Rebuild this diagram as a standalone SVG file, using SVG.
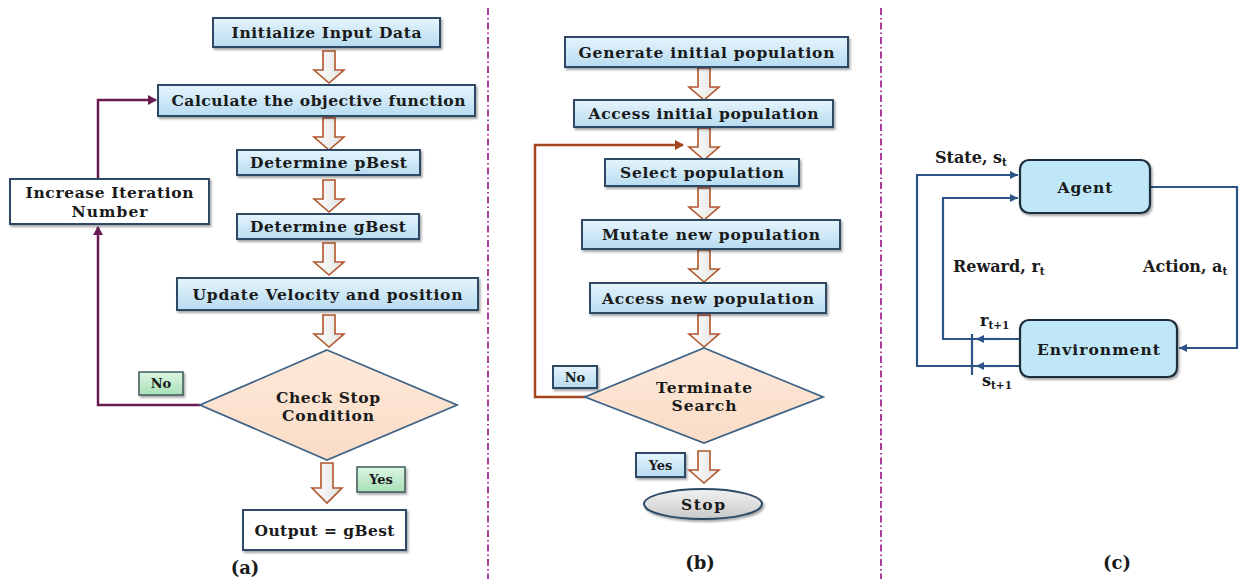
<svg xmlns="http://www.w3.org/2000/svg" xmlns:xlink="http://www.w3.org/1999/xlink" width="1239" height="579" viewBox="0 0 1239 579">
  <style>
    text { font-family: "DejaVu Serif", "Liberation Serif", serif; font-weight: bold; fill: #1a1a1a; }
    .t { font-size: 15.5px; text-anchor: middle; }
    .cap { font-size: 18px; text-anchor: middle; }
    .lbl { font-size: 13px; text-anchor: middle; }
    .rlab { font-size: 16px; }
    .sub { font-size: 10.5px; }
    .box { fill: url(#blueGrad); stroke: #2e4a66; stroke-width: 2; filter: url(#shadow); }
    .wbox { fill: #ffffff; stroke: #2e4a66; stroke-width: 2; filter: url(#shadow); }
    .gbox { fill: url(#greenGrad); stroke: #3d5a5a; stroke-width: 1.5; filter: url(#shadow); }
    .dia { fill: url(#peachGrad); stroke: #3e6488; stroke-width: 1.8; }
    .harrow { fill: url(#arrowGrad); stroke: #b0562b; stroke-width: 1.6; }
    .rbox { fill: #bfe7f7; stroke: #1f2d3b; stroke-width: 2.2; filter: url(#shadow); }
    .purple { fill: none; stroke: #6a1b50; stroke-width: 2.5; }
    .brown { fill: none; stroke: #a3461c; stroke-width: 2.5; }
    .rl { fill: none; stroke: #2c5488; stroke-width: 2.2; }
    .div { stroke: #a83c9a; stroke-width: 2; stroke-dasharray: 7 3 1.5 3; }
  </style>
  <defs>
    <linearGradient id="blueGrad" x1="0" y1="0" x2="0" y2="1">
      <stop offset="0" stop-color="#e6f4fc"/>
      <stop offset="1" stop-color="#b7dcf1"/>
    </linearGradient>
    <linearGradient id="greenGrad" x1="0" y1="0" x2="0" y2="1">
      <stop offset="0" stop-color="#dcf5e2"/>
      <stop offset="1" stop-color="#a9e0b8"/>
    </linearGradient>
    <linearGradient id="peachGrad" x1="0" y1="0" x2="0" y2="1">
      <stop offset="0" stop-color="#fde9da"/>
      <stop offset="1" stop-color="#fadcc6"/>
    </linearGradient>
    <linearGradient id="arrowGrad" x1="0" y1="0" x2="1" y2="0">
      <stop offset="0" stop-color="#ffffff"/>
      <stop offset="1" stop-color="#e2e2e2"/>
    </linearGradient>
    <linearGradient id="stopGrad" x1="0" y1="0" x2="0" y2="1">
      <stop offset="0" stop-color="#f2f2f2"/>
      <stop offset="1" stop-color="#c9c9c9"/>
    </linearGradient>
    <filter id="shadow" x="-10%" y="-20%" width="120%" height="150%">
      <feDropShadow dx="1.5" dy="2" stdDeviation="1.2" flood-color="#000" flood-opacity="0.35"/>
    </filter>
    <!-- hollow block arrow, tip at (0,32) -->
    <path id="blk" class="harrow" d="M-6,0 H6 V19 H15 L0,32 L-15,19 H-6 Z"/>
    <path id="blkTall" class="harrow" d="M-6,0 H6 V25 H15 L0,40 L-15,25 H-6 Z"/>
    <marker id="mPurple" markerWidth="10" markerHeight="10" refX="8" refY="5" orient="auto" markerUnits="userSpaceOnUse">
      <path d="M0,0 L9,5 L0,10 Z" fill="#6a1b50"/>
    </marker>
    <marker id="mBrown" markerWidth="10" markerHeight="10" refX="8" refY="5" orient="auto" markerUnits="userSpaceOnUse">
      <path d="M0,0 L9,5 L0,10 Z" fill="#a3461c"/>
    </marker>
    <marker id="mBlue" markerWidth="10" markerHeight="10" refX="8" refY="4" orient="auto" markerUnits="userSpaceOnUse">
      <path d="M0,0 L8,4 L0,8 Z" fill="#2c5488"/>
    </marker>
  </defs>

  <rect width="1239" height="579" fill="#ffffff"/>

  <!-- panel dividers -->
  <line class="div" x1="488" y1="8" x2="488" y2="579"/>
  <line class="div" x1="881" y1="8" x2="881" y2="579"/>

  <!-- ===== (a) particle swarm flow ===== -->
  <g id="connectors-a">
    <polyline class="purple" points="98,179 98,100 156,100" marker-end="url(#mPurple)"/>
    <polyline class="purple" points="200,405 98,405 98,227" marker-end="url(#mPurple)"/>
    <use href="#blk" x="329" y="51"/>
    <use href="#blk" x="329" y="118"/>
    <use href="#blk" x="329" y="180"/>
    <use href="#blk" x="329" y="243"/>
    <use href="#blk" x="329" y="315"/>
    <use href="#blkTall" x="327" y="463"/>
  </g>
  <g id="a-init">
    <rect class="box" x="213" y="18" width="227" height="29"/>
    <text class="t" x="326.5" y="38" textLength="190">Initialize Input Data</text>
  </g>
  <g id="a-calc">
    <rect class="box" x="158" y="85" width="317" height="31"/>
    <text class="t" x="318.5" y="106" textLength="294">Calculate the objective function</text>
  </g>
  <g id="a-pbest">
    <rect class="box" x="237" y="150" width="183" height="25"/>
    <text class="t" x="328.5" y="168" textLength="157">Determine pBest</text>
  </g>
  <g id="a-gbest">
    <rect class="box" x="237" y="214" width="182" height="25"/>
    <text class="t" x="328" y="232" textLength="156">Determine gBest</text>
  </g>
  <g id="a-update">
    <rect class="box" x="177" y="278" width="301" height="32"/>
    <text class="t" x="327.5" y="300" textLength="270">Update Velocity and position</text>
  </g>
  <g id="a-increase">
    <rect class="wbox" x="10" y="179" width="199" height="45"/>
    <text class="t" x="109.5" y="198" textLength="168">Increase Iteration</text>
    <text class="t" x="109.5" y="217" textLength="76">Number</text>
  </g>
  <g id="a-check">
    <polygon class="dia" points="327,350 457,405 327,460 200,405"/>
    <text class="t" x="328" y="403" textLength="104">Check Stop</text>
    <text class="t" x="328" y="421" textLength="92">Condition</text>
  </g>
  <g id="a-no">
    <rect class="gbox" x="139" y="372" width="44" height="23"/>
    <text class="lbl" x="161" y="388">No</text>
  </g>
  <g id="a-yes">
    <rect class="gbox" x="357" y="467" width="48" height="25"/>
    <text class="lbl" x="381" y="484">Yes</text>
  </g>
  <g id="a-output">
    <rect class="wbox" x="243" y="510" width="163" height="40"/>
    <text class="t" x="324.5" y="536" textLength="140">Output = gBest</text>
  </g>
  <text class="cap" x="245" y="574">(a)</text>

  <!-- ===== (b) genetic algorithm flow ===== -->
  <g id="connectors-b">
    <polyline class="brown" points="587,397 535,397 535,145 683,145" marker-end="url(#mBrown)"/>
    <use href="#blk" x="704" y="68"/>
    <use href="#blk" x="704" y="128"/>
    <use href="#blk" x="704" y="188"/>
    <use href="#blk" x="704" y="250"/>
    <use href="#blk" x="704" y="315"/>
    <use href="#blk" x="704" y="451"/>
  </g>
  <g id="b-generate">
    <rect class="box" x="565" y="37" width="283" height="30"/>
    <text class="t" x="706.5" y="58" textLength="256">Generate initial population</text>
  </g>
  <g id="b-access-init">
    <rect class="box" x="574" y="100" width="259" height="27"/>
    <text class="t" x="703.5" y="119" textLength="230">Access initial population</text>
  </g>
  <g id="b-select">
    <rect class="box" x="605" y="159" width="194" height="27"/>
    <text class="t" x="702" y="178" textLength="164">Select population</text>
  </g>
  <g id="b-mutate">
    <rect class="box" x="582" y="220" width="258" height="29"/>
    <text class="t" x="711" y="240" textLength="218">Mutate new population</text>
  </g>
  <g id="b-access-new">
    <rect class="box" x="590" y="283" width="236" height="30"/>
    <text class="t" x="708" y="304" textLength="212">Access new population</text>
  </g>
  <g id="b-terminate">
    <polygon class="dia" points="704,348 823,397 704,443 585,397"/>
    <text class="t" x="704" y="393" textLength="96">Terminate</text>
    <text class="t" x="704" y="411" textLength="65">Search</text>
  </g>
  <g id="b-no">
    <rect class="box" x="553" y="366" width="44" height="22" stroke-width="1.5"/>
    <text class="lbl" x="575" y="382">No</text>
  </g>
  <g id="b-yes">
    <rect class="box" x="636" y="453" width="49" height="24" stroke-width="1.5"/>
    <text class="lbl" x="660.5" y="470">Yes</text>
  </g>
  <g id="b-stop">
    <ellipse cx="703" cy="504" rx="59" ry="15" fill="url(#stopGrad)" stroke="#2e4a66" stroke-width="2" filter="url(#shadow)"/>
    <text class="t" x="703" y="510" textLength="44">Stop</text>
  </g>
  <text class="cap" x="700" y="569">(b)</text>

  <!-- ===== (c) reinforcement learning loop ===== -->
  <g id="connectors-c">
    <polyline class="rl" points="1020,366 917,366 917,175 1018,175" marker-end="url(#mBlue)"/>
    <polyline class="rl" points="1020,339 943,339 943,198 1018,198" marker-end="url(#mBlue)"/>
    <polyline class="rl" points="1150,187 1237,187 1237,348 1179,348" marker-end="url(#mBlue)"/>
    <line class="rl" x1="1000" y1="339" x2="976" y2="339" marker-end="url(#mBlue)"/>
    <line class="rl" x1="1000" y1="366" x2="976" y2="366" marker-end="url(#mBlue)"/>
    <line class="rl" x1="972" y1="334" x2="972" y2="375"/>
  </g>
  <g id="c-agent">
    <rect class="rbox" x="1020" y="160" width="130" height="53" rx="9"/>
    <text class="t" x="1085" y="193" textLength="55">Agent</text>
  </g>
  <g id="c-environment">
    <rect class="rbox" x="1020" y="320" width="157" height="57" rx="9"/>
    <text class="t" x="1098.5" y="355" textLength="123">Environment</text>
  </g>
  <text class="rlab" x="935" y="163">State, s<tspan class="sub" dy="3">t</tspan></text>
  <text class="rlab" x="953" y="272">Reward, r<tspan class="sub" dy="3">t</tspan></text>
  <text class="rlab" x="1143" y="272">Action, a<tspan class="sub" dy="3">t</tspan></text>
  <text class="rlab" x="980" y="326">r<tspan class="sub" dy="3">t+1</tspan></text>
  <text class="rlab" x="982" y="386">s<tspan class="sub" dy="3">t+1</tspan></text>
  <text class="cap" x="1117" y="569">(c)</text>
</svg>
